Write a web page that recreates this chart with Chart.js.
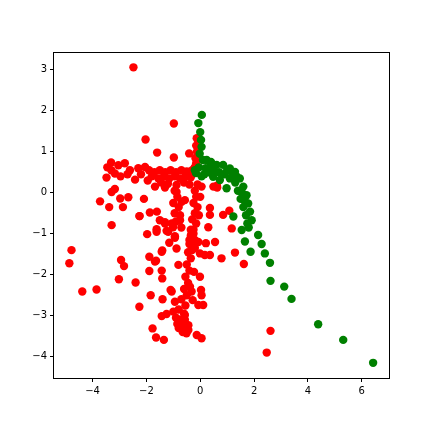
<!DOCTYPE html>
<html>
<head>
<meta charset="utf-8">
<script src="https://cdn.jsdelivr.net/npm/chart.js"></script>
<style>
  html, body { margin: 0; padding: 0; background: #ffffff; }
  canvas { display: block; }
</style>
</head>
<body>
<canvas id="scatterChart" width="432" height="432"></canvas>
<script>
// axis ticks
const xTicks = [-4, -2, 0, 2, 4, 6];
const yTicks = [-4, -3, -2, -1, 0, 1, 2, 3];

// green series
const greenX = [0.06, -0.07, 0.00, 0.03, 0.05, -0.02, 0.10, -0.16, 0.24, 0.36, 0.61, 0.85, 1.10, 1.29, 1.47, 1.60,
  1.72, 1.78, 1.85, 1.91, 0.98, 0.73, 0.48, 1.23, 1.54, 1.66, 1.87, 2.15, 2.28, 2.40, 2.59, 2.61, 3.12, 3.39,
  4.38, 5.31, 6.42, 0.30, 0.50, 0.70, 0.90, 1.10, 1.30, 1.40, 1.50, 1.60, 1.70, 1.75, 0.20, 0.15, 0.40, 1.00,
  1.20, 1.35, 1.55, 1.65, 1.80, -0.20, 0.05, -0.05];
const greenY = [1.90, 1.70, 1.48, 1.29, 1.12, 0.95, 0.80, 0.48, 0.80, 0.63, 0.68, 0.68, 0.59, 0.51, 0.35, 0.15,
  -0.06, -0.26, -0.46, -0.67, 0.11, 0.31, 0.39, -0.58, -0.91, -1.19, -1.44, -1.03, -1.25, -1.48, -1.71, -2.15, -2.29, -2.59,
  -3.21, -3.59, -4.15, 0.50, 0.55, 0.50, 0.45, 0.35, 0.25, 0.05, -0.15, -0.35, -0.55, -0.75, 0.60, 0.45, 0.75, 0.55,
  0.45, 0.40, 0.00, -0.20, -0.85, 0.55, 0.40, 0.62];

// red series
const redX = [-2.48, -0.98, -2.03, -1.60, -0.98, -0.41, -0.13, -4.78, -4.86, -4.38, -3.85, -3.29, -2.94, -2.83, -3.02,
  -2.40, -2.26, -2.26, -1.97, -1.62, -1.89, -1.64, -1.89, -1.43, -1.41, -1.84, -1.40, -1.43, -1.25, -1.77, -1.64,
  -1.35, -1.02, -1.15, -0.94, -1.41, -1.68, -1.10,
  -3.31, -3.04, -2.80, -3.48, -3.17, -2.96, -2.61, -2.42, -2.05, -3.29, -3.17, -3.72, -3.38, -2.97, -2.87, -2.67,
  -2.09, -2.25, -1.87, -1.61, -1.50, -1.31, -1.06, -1.62, -1.25, -1.68, -1.31, -0.88, -0.88, -0.69, -0.57, -0.75, -0.32,
  -1.90, -1.70, -1.50, -1.30, -1.10, -0.90, -0.70, -0.50, -0.30, -1.80, -1.55, -1.35, -1.15, -0.95, -0.75, -0.55, -0.35,
  -2.30, -2.70, -2.20, -1.95, -1.45, -1.20, -0.60, -0.40, -3.30, -3.45,
  -0.15, -0.12, -0.18, -0.15, -0.20,
  -0.10, -0.20, -0.15, -0.25, -0.10, -0.20, -0.30, -0.15, -0.25, -0.35, -0.20, -0.40, -0.30, 0.00, 0.05, -0.05,
  -0.95, -0.85, -1.00, -0.80, -0.95, -0.75, -0.90, -0.70, -1.31, -1.01, -0.94, -0.27,
  -0.35, -0.25, -0.40, -0.30, -0.45, -0.35, -0.50, -0.40, -0.55, -0.45, -0.60, -0.50, -0.70, -0.55, -0.80, -0.60,
  -0.90, -0.70, -0.55, -0.80, -0.65,
  -0.88, -0.81, -0.38, -0.32, -0.57, -0.44, -1.00, -0.85, -0.30, -0.20,
  -1.19, -1.43, -1.06, -0.94, -0.75, -0.57, -0.44, -0.51, -0.13, 0.05,
  -0.07, 0.21, 0.55, -0.01, 0.17, 0.36, 0.79, -0.23, -0.01, 0.03, 0.05, -0.28, -0.07, 0.11,
  0.30, 0.36, 0.85, 1.08, 1.17, 0.63, 0.49, 1.29, 1.62, 2.61, 2.47, 0.62, 0.36];
const redY = [3.06, 1.69, 1.30, 0.98, 0.86, 0.96, 1.33, -1.40, -1.72, -2.41, -2.36, -0.79, -1.64, -1.79, -2.11,
  -2.19, -2.78, -0.57, -1.01, -0.95, -1.56, -1.66, -1.91, -1.90, -2.09, -2.50, -2.60, -3.01, -2.96, -3.31, -3.53,
  -3.59, -0.76, -1.22, -1.06, -1.41, -1.68, -2.37,
  0.74, 0.67, 0.72, 0.37, 0.47, 0.40, 0.55, 0.32, 0.63, 0.02, 0.09, -0.21, -0.35, -0.14, -0.35, -0.11,
  -0.15, -0.57, -0.48, -0.46, -0.67, -0.75, -0.75, -0.89, -0.93, 0.15, 0.13, 0.19, 0.02, -0.22, -0.18, -0.67, -0.99,
  0.55, 0.50, 0.55, 0.50, 0.55, 0.50, 0.55, 0.52, 0.55, 0.40, 0.35, 0.40, 0.35, 0.40, 0.35, 0.40, 0.38,
  0.60, 0.45, 0.45, 0.30, 0.25, 0.22, 0.25, 0.20, 0.55, 0.62,
  1.15, 1.00, 0.85, 0.72, 0.62,
  0.20, 0.05, -0.10, -0.25, -0.35, -0.50, -0.65, -0.75, -0.90, -1.05, -1.15, -1.25, -1.40, -0.10, 0.15, -0.55,
  0.05, -0.10, -0.25, -0.35, -0.50, -0.55, -0.70, -0.85, -0.72, -0.84, -1.10, -1.20,
  -0.90, -1.00, -1.15, -1.30, -1.45, -1.60, -1.75, -1.90, -2.05, -2.20, -2.35, -2.50, -2.60, -2.75, -2.85, -2.95,
  -3.05, -3.15, -3.25, -3.30, -3.40,
  -1.36, -1.76, -2.29, -2.41, -2.98, -3.23, -2.90, -3.20, -1.20, -1.35,
  -0.95, -1.44, -2.41, -2.66, -3.10, -3.10, -3.35, -3.43, -3.47, -3.55,
  -1.20, -1.23, -1.20, -1.48, -1.52, -1.52, -1.60, -1.93, -2.05, -2.37, -2.50, -2.62, -2.74, -2.74,
  -0.84, -0.54, -0.54, -0.44, -0.87, 0.13, 0.15, -1.46, -1.74, -3.37, -3.90, 0.17, -0.37];

function toPoints(xs, ys) {
  return xs.map((x, i) => ({ x: x, y: ys[i] }));
}

function minusSign(v) {
  return String(v).replace('-', '\u2212');
}

const frame = {
  id: 'frame',
  afterDraw(chart) {
    const a = chart.chartArea;
    const ctx = chart.ctx;
    ctx.save();
    ctx.strokeStyle = '#000';
    ctx.lineWidth = 1;
    ctx.strokeRect(Math.round(a.left) - 0.5, Math.round(a.top) - 0.5,
      Math.round(a.right - a.left) + 1, Math.round(a.bottom - a.top) + 1);
    ctx.restore();
  }
};

const ctx = document.getElementById('scatterChart').getContext('2d');
new Chart(ctx, {
  type: 'scatter',
  data: {
    datasets: [
      {
        label: 'green',
        data: toPoints(greenX, greenY),
        backgroundColor: '#008000',
        borderColor: '#008000',
        borderWidth: 0,
        pointRadius: 4.2,
        pointHoverRadius: 4.2
      },
      {
        label: 'red',
        data: toPoints(redX, redY),
        backgroundColor: '#ff0000',
        borderColor: '#ff0000',
        borderWidth: 0,
        pointRadius: 4.2,
        pointHoverRadius: 4.2
      }
    ]
  },
  options: {
    responsive: false,
    animation: false,
    layout: { padding: { top: 53, right: 43, bottom: 24, left: 0 } },
    plugins: {
      legend: { display: false },
      tooltip: { enabled: false }
    },
    scales: {
      x: {
        type: 'linear',
        min: -5.43,
        max: 7.01,
        afterFit: (s) => { s.height = 30; },
        border: { display: false },
        grid: { display: true, drawOnChartArea: false, drawTicks: true, tickLength: 4, color: '#000' },
        ticks: {
          stepSize: 2,
          includeBounds: false,
          padding: 3,
          color: '#000',
          font: { family: 'DejaVu Sans', size: 10 },
          callback: (v) => xTicks.includes(v) ? minusSign(v) : null
        }
      },
      y: {
        type: 'linear',
        min: -4.52,
        max: 3.41,
        afterFit: (s) => { s.width = 54; },
        border: { display: false },
        grid: { display: true, drawOnChartArea: false, drawTicks: true, tickLength: 4, color: '#000' },
        ticks: {
          stepSize: 1,
          includeBounds: false,
          padding: 3,
          color: '#000',
          font: { family: 'DejaVu Sans', size: 10 },
          callback: (v) => yTicks.includes(v) ? minusSign(v) : null
        }
      }
    }
  },
  plugins: [frame]
});
</script>
</body>
</html>
